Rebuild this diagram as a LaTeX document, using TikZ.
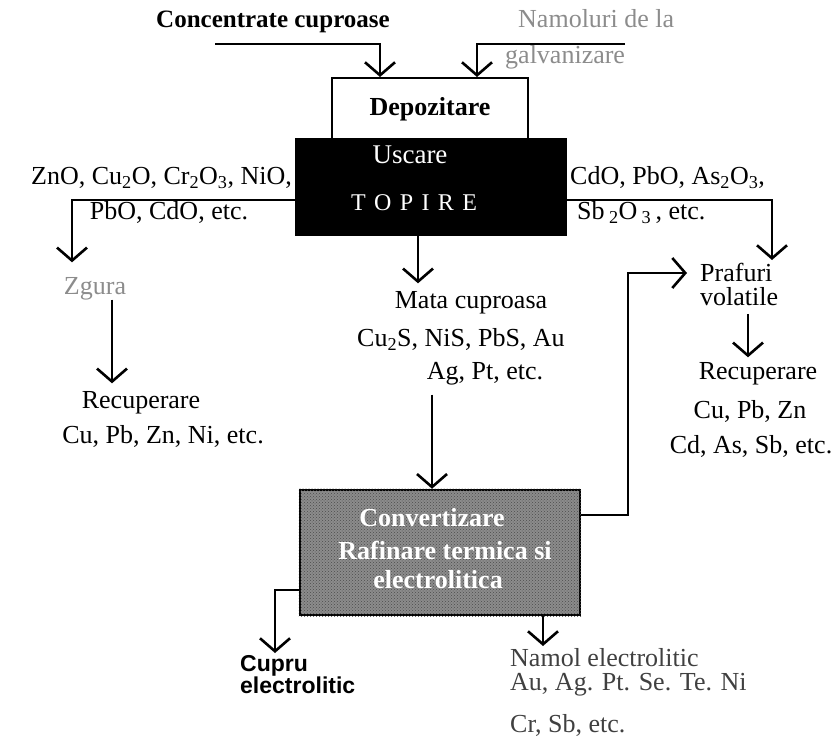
\documentclass[tikz,border=0pt]{standalone}
\usepackage{fontspec}
\setmainfont{Liberation Serif}
\setsansfont{Liberation Sans}
\usetikzlibrary{arrows.meta,patterns}

\begin{document}
\begin{tikzpicture}[x=1pt, y=-1pt,
    every node/.style={inner sep=0pt, text height=18pt, text depth=5pt,
        font=\fontsize{26}{26}\selectfont},
    flow/.style={line width=2pt,
        -{Straight Barb[length=13pt, width=30pt, line width=2.6pt]}},
    faded/.style={text=black!45},
    thin/.style={text=black!75},
    stacked/.style={align=left, anchor=north west, text height=, text depth=},
    stage/.style={draw, line width=2pt, minimum width=196pt, minimum height=62pt},
    furnace/.style={draw=black, fill=black, minimum width=271pt, minimum height=97pt},
    refine/.style={draw=black, line width=2.5pt, fill=black!45,
        minimum width=280pt, minimum height=125pt},
    whitebold/.style={text=white, font=\fontsize{26}{26}\selectfont\bfseries},
    cathode/.style={stacked, font=\fontsize{23}{22}\selectfont\sffamily\bfseries}]

    \useasboundingbox (0,0) rectangle (840,738);

    % === INPUTS ===
    \node[font=\fontsize{25}{25}\selectfont\bfseries] (conc) at (273,21) {Concentrate cuproase};
    \node[faded, anchor=west] (namA) at (518,21) {Namoluri de la};
    \node[faded, anchor=west] (namB) at (505,57) {galvanizare};
    \coordinate (feedA) at (215,44);
    \coordinate (feedB) at (625,44);

    % === STORAGE AND FURNACE ===
    \node[stage, font=\fontsize{26}{26}\selectfont\bfseries] (depo) at (430,109) {Depozitare};
    \node[furnace] (furnace) at (430.5,186.5) {};
    \node[text=white, font=\fontsize{27}{27}\selectfont] (uscare) at (410,157) {Uscare};
    \node[text=white, font=\fontsize{24}{24}\selectfont] (topire) at (414,204)
        {T\hspace{.35em}O\hspace{.35em}P\hspace{.35em}I\hspace{.35em}R\hspace{.35em}E};

    \draw[flow] (feedA) -| ([xshift=-50pt]depo.north);
    \draw[flow] (feedB) -| ([xshift=47pt]depo.north);

    % === SLAG (left) ===
    \node[anchor=east] (oxL1) at (292,178)
        {ZnO, Cu\textsubscript{2}O, Cr\textsubscript{2}O\textsubscript{3}, NiO,};
    \node (oxL2) at (169,213) {PbO, CdO, etc.};
    \node[faded] (zgura) at (95,288) {Zgura};
    \node (recL) at (141,402) {Recuperare};
    \node (recL2) at (163,437) {Cu, Pb, Zn, Ni, etc.};

    \draw[flow, shorten >=14pt] ([yshift=-13.5pt]furnace.west) -| ([xshift=-23pt]zgura.north);
    \draw[flow, shorten >=7pt] ([xshift=17pt]zgura.south)
        -- ([xshift=17pt]zgura.south |- recL.north);

    % === DUSTS (right) ===
    \node[anchor=west] (oxR1) at (570,178)
        {CdO, PbO, As\textsubscript{2}O\textsubscript{3},};
    \node[anchor=west] (oxR2) at (577,213) {Sb\,\textsubscript{2}O\,\textsubscript{3}\,, etc.};
    \node[stacked, font=\fontsize{26}{24}\selectfont] (praf) at (700,263) {Prafuri\\volatile};
    \node (recR) at (758,373) {Recuperare};
    \node (recR2) at (750,412) {Cu, Pb, Zn};
    \node (recR3) at (751,447) {Cd, As, Sb, etc.};

    \draw[flow, shorten >=3pt] ([yshift=-13.5pt]furnace.east) -| ([xshift=72pt]praf.north west);
    \draw[flow, shorten >=4pt] ([xshift=48pt,yshift=-8pt]praf.south west)
        -- ([xshift=48pt]praf.south west |- recR.north);

    % === MATTE (middle) ===
    \node (mata) at (471,302) {Mata cuproasa};
    \node (mata2) at (461,340) {Cu\textsubscript{2}S, NiS, PbS, Au};
    \node (mata3) at (485,373) {Ag, Pt, etc.};

    \draw[flow, shorten >=7pt] ([xshift=-12.5pt]furnace.south)
        -- ([xshift=-12.5pt]furnace.south |- mata.north);

    % === CONVERTING AND REFINING ===
    \node[refine] (conv) at (440,552.5) {};
    \fill[pattern=crosshatch dots, pattern color=black!70]
        (conv.south west) rectangle (conv.north east);
    \node[whitebold] (convA) at (432,520) {Convertizare};
    \node[whitebold] (convB) at (445,553) {Rafinare termica si};
    \node[whitebold] (convC) at (438,582) {electrolitica};

    \draw[flow, shorten <=10pt] ([xshift=-53pt]mata3.south) -- ([xshift=-53pt]mata3.south |- conv.north);
    \draw[flow, shorten >=13pt] ([yshift=37.5pt]conv.east) -- ++(47,0) |- ([yshift=-10pt]praf.north west);

    % === PRODUCTS ===
    \node[cathode] (cupru) at (240,655) {Cupru\\electrolitic};
    \node[thin, stacked, font=\fontsize{26}{24}\selectfont] (slime) at (510,648)
        {Namol electrolitic\\Au, Ag. Pt. Se. Te. Ni};
    \node[thin, anchor=west] (slimeC) at (510,726) {Cr, Sb, etc.};

    \draw[flow, shorten >=2pt] ([xshift=0pt,yshift=-37.5pt]conv.west) -| ([xshift=35pt]cupru.north west);
    \draw[flow, shorten >=2pt] ([xshift=103pt]conv.south) -- ([xshift=103pt]conv.south |- slime.north);

\end{tikzpicture}
\end{document}
